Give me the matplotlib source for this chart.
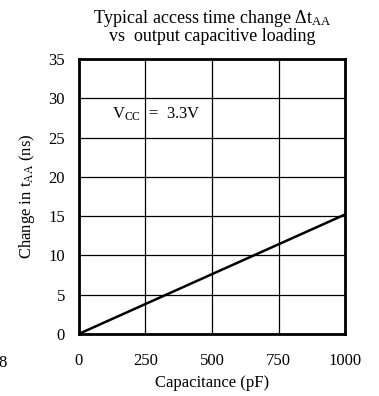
import matplotlib
matplotlib.use("Agg")
import matplotlib.pyplot as plt

# data
capacitance = [0, 1000]
delta_taa = [0, 15.2]
x_ticks = [0, 250, 500, 750, 1000]
x_tick_labels = ["0", "250", "500", "750", "1000"]
y_ticks = [0, 5, 10, 15, 20, 25, 30, 35]

plt.rcParams["font.family"] = ["Liberation Serif", "DejaVu Serif"]
plt.rcParams["mathtext.fontset"] = "custom"
plt.rcParams["mathtext.rm"] = "Liberation Serif"
plt.rcParams["mathtext.it"] = "Liberation Serif:italic"

fig = plt.figure(figsize=(3.79, 3.96), dpi=100)
ax = fig.add_axes([0.2084, 0.157, 0.702, 0.694])

ax.plot(capacitance, delta_taa, color="black", linewidth=1.8)

ax.set_xlim(0, 1000)
ax.set_ylim(0, 35)
ax.set_xticks(x_ticks)
ax.set_xticklabels(x_tick_labels)
ax.set_yticks(y_ticks)
ax.tick_params(axis="x", length=0, labelsize=12, pad=14)
ax.tick_params(axis="y", length=0, labelsize=12, pad=10)
ax.grid(True, color="black", linewidth=0.9)
for s in ax.spines.values():
    s.set_linewidth(2)

ax.set_xlabel("Capacitance (pF)", fontsize=12, labelpad=4)
ax.set_ylabel(r"Change in t$_{\rm AA}$ (ns)", fontsize=12, labelpad=8)
ax.set_title("Typical access time change $\\Delta$t$_{\\rm AA}$\nvs  output capacitive loading",
             fontsize=13, linespacing=0.95, pad=13)

ax.text(125, 28.0, r"V$_{\rm CC}$  =  3.3V", fontsize=12, va="center")

# stray page mark on the left
fig.text(3 / 379, 1 - 363 / 396, "8", fontsize=12, ha="center", va="center")

fig.savefig("out.png", dpi=100)
